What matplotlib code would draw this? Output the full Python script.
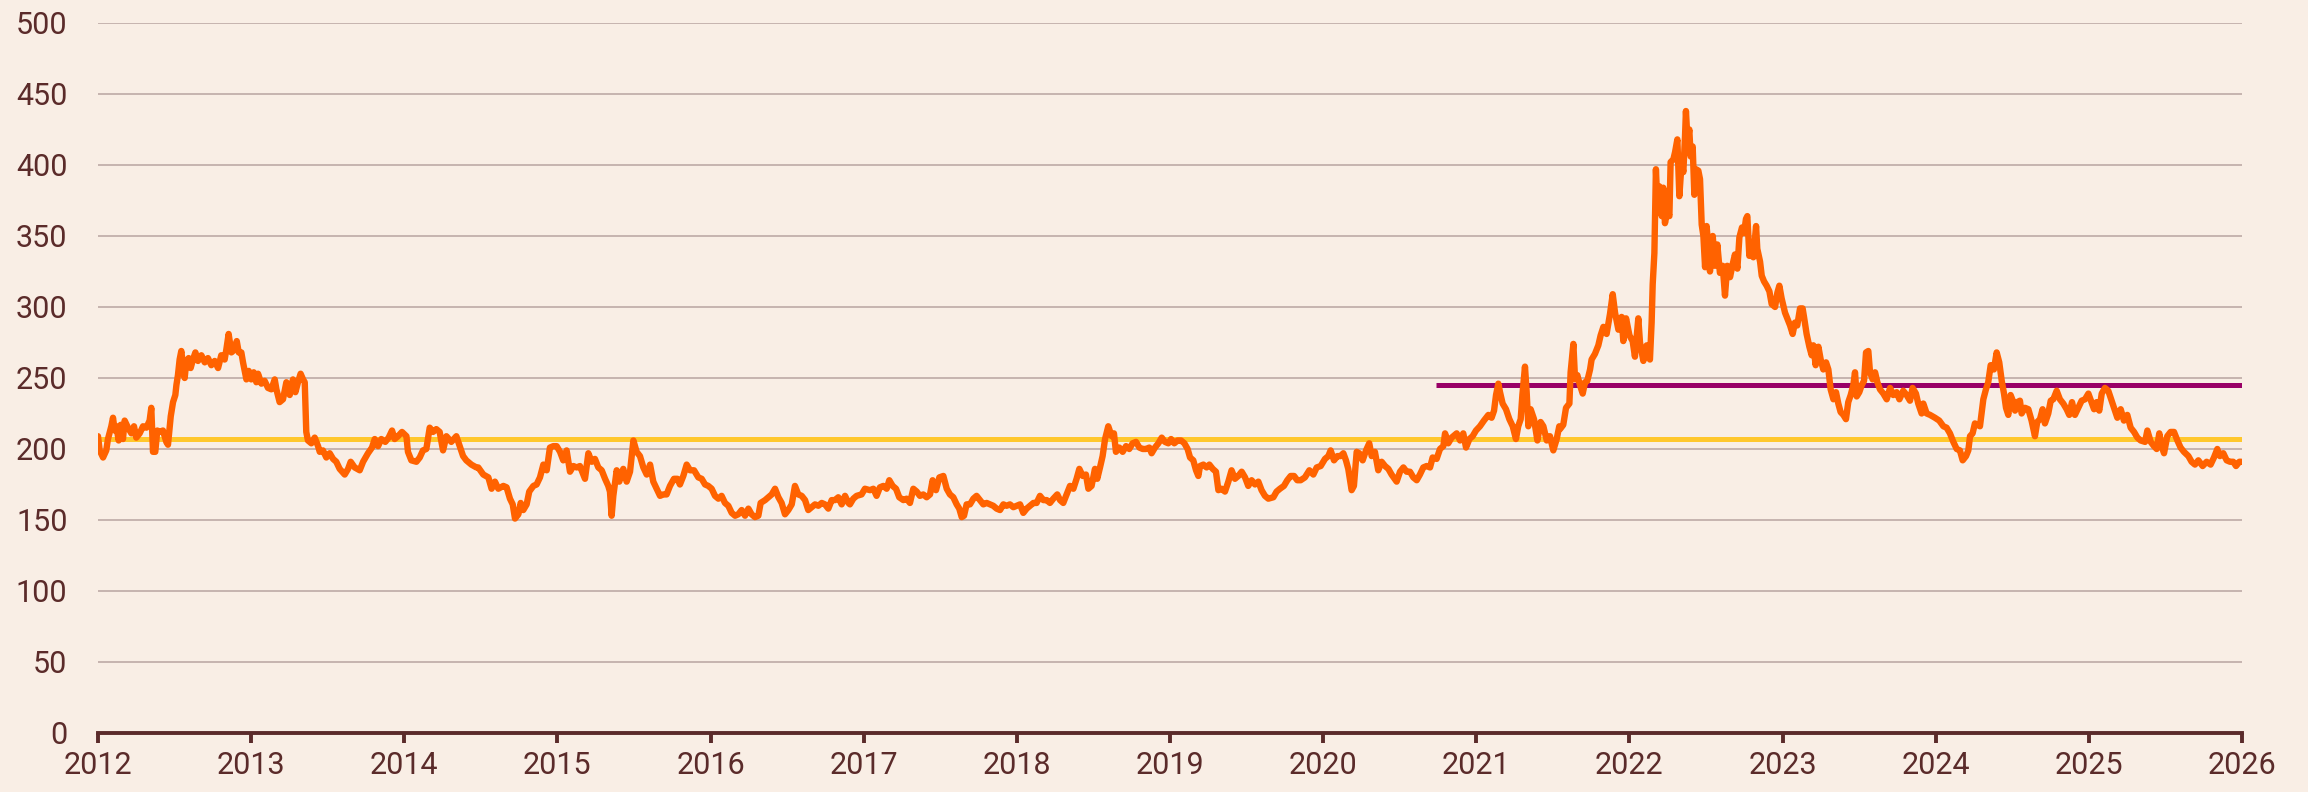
import matplotlib.pyplot as plt

# decimal years and index values
years = [
    2012.000, 2012.011, 2012.033, 2012.054, 2012.065, 2012.087, 2012.098, 2012.109, 2012.120, 2012.135,
    2012.148, 2012.163, 2012.174, 2012.196, 2012.218, 2012.235, 2012.250, 2012.272, 2012.294, 2012.316,
    2012.337, 2012.348, 2012.359, 2012.374, 2012.387, 2012.403, 2012.424, 2012.446, 2012.457, 2012.475,
    2012.490, 2012.505, 2012.512, 2012.522, 2012.533, 2012.544, 2012.555, 2012.566, 2012.577, 2012.592,
    2012.605, 2012.620, 2012.636, 2012.653, 2012.675, 2012.697, 2012.718, 2012.740, 2012.762, 2012.784,
    2012.805, 2012.827, 2012.838, 2012.853, 2012.871, 2012.892, 2012.906, 2012.919, 2012.936, 2012.947,
    2012.958, 2012.969, 2012.984, 2013.001, 2013.017, 2013.034, 2013.045, 2013.067, 2013.088, 2013.110,
    2013.132, 2013.154, 2013.165, 2013.186, 2013.208, 2013.230, 2013.252, 2013.273, 2013.289, 2013.306,
    2013.323, 2013.339, 2013.350, 2013.360, 2013.371, 2013.393, 2013.415, 2013.437, 2013.448, 2013.469,
    2013.491, 2013.513, 2013.535, 2013.556, 2013.578, 2013.611, 2013.633, 2013.650, 2013.676, 2013.709,
    2013.731, 2013.763, 2013.789, 2013.807, 2013.829, 2013.850, 2013.876, 2013.898, 2013.920, 2013.937,
    2013.959, 2013.985, 2014.014, 2014.024, 2014.046, 2014.079, 2014.101, 2014.122, 2014.144, 2014.166,
    2014.188, 2014.209, 2014.231, 2014.253, 2014.275, 2014.307, 2014.340, 2014.362, 2014.384, 2014.405,
    2014.438, 2014.471,
    2014.483, 2014.516, 2014.549, 2014.570, 2014.592, 2014.614, 2014.647, 2014.668, 2014.690, 2014.708,
    2014.723, 2014.745, 2014.760, 2014.777, 2014.799, 2014.816, 2014.843, 2014.864, 2014.886, 2014.908,
    2014.930, 2014.951, 2014.973, 2014.995, 2015.017, 2015.038, 2015.060, 2015.082, 2015.104, 2015.126,
    2015.147, 2015.180, 2015.202, 2015.224, 2015.245, 2015.267, 2015.289, 2015.311, 2015.332, 2015.343,
    2015.354, 2015.365, 2015.387, 2015.404, 2015.430, 2015.452, 2015.474, 2015.496, 2015.517, 2015.539,
    2015.561, 2015.583, 2015.605, 2015.626, 2015.648, 2015.670, 2015.692, 2015.713, 2015.735, 2015.761,
    2015.783, 2015.800, 2015.822, 2015.844, 2015.866, 2015.892, 2015.920, 2015.942, 2015.964, 2015.985,
    2016.007, 2016.029, 2016.051, 2016.072, 2016.094, 2016.116, 2016.138, 2016.160, 2016.181, 2016.203,
    2016.225, 2016.247, 2016.268, 2016.290, 2016.312, 2016.327, 2016.356, 2016.377, 2016.399, 2016.421,
    2016.443, 2016.464, 2016.486, 2016.508, 2016.530, 2016.551, 2016.573, 2016.595, 2016.617, 2016.638,
    2016.660, 2016.682, 2016.704, 2016.726, 2016.747, 2016.769, 2016.791, 2016.813, 2016.834, 2016.856,
    2016.878, 2016.900,
    2016.910, 2016.932, 2016.954, 2016.986, 2017.008, 2017.041, 2017.063, 2017.084, 2017.106, 2017.128,
    2017.150, 2017.167, 2017.189, 2017.211, 2017.232, 2017.259, 2017.280, 2017.302, 2017.324, 2017.346,
    2017.367, 2017.389, 2017.411, 2017.433, 2017.450, 2017.472, 2017.494, 2017.520, 2017.542, 2017.563,
    2017.585, 2017.607, 2017.624, 2017.640, 2017.655, 2017.672, 2017.694, 2017.716, 2017.737, 2017.759,
    2017.781, 2017.803, 2017.825, 2017.846, 2017.868, 2017.890, 2017.912, 2017.933, 2017.955, 2017.977,
    2017.999, 2018.021, 2018.042, 2018.064, 2018.086, 2018.108, 2018.129, 2018.151, 2018.173, 2018.195,
    2018.216, 2018.238, 2018.264, 2018.282, 2018.303, 2018.325, 2018.347, 2018.369, 2018.390, 2018.408,
    2018.430, 2018.451, 2018.467, 2018.488, 2018.510, 2018.525, 2018.543, 2018.560, 2018.576, 2018.597,
    2018.619, 2018.634, 2018.647, 2018.669, 2018.691, 2018.713, 2018.734, 2018.756, 2018.778, 2018.800,
    2018.822, 2018.843, 2018.865, 2018.880, 2018.902, 2018.924, 2018.946, 2018.967, 2018.989, 2019.007,
    2019.028, 2019.050, 2019.072, 2019.094, 2019.115, 2019.131, 2019.152, 2019.170, 2019.185, 2019.196,
    2019.218, 2019.239, 2019.257, 2019.279, 2019.300, 2019.316,
    2019.337, 2019.359, 2019.381, 2019.402, 2019.424, 2019.446, 2019.468, 2019.490, 2019.511, 2019.533,
    2019.555, 2019.577, 2019.598, 2019.620, 2019.642, 2019.675, 2019.696, 2019.718, 2019.744, 2019.766,
    2019.788, 2019.810, 2019.831, 2019.853, 2019.881, 2019.910, 2019.936, 2019.958, 2019.984, 2020.012,
    2020.034, 2020.049, 2020.071, 2020.093, 2020.114, 2020.132, 2020.149, 2020.164, 2020.186, 2020.201,
    2020.219, 2020.236, 2020.258, 2020.280, 2020.301, 2020.317, 2020.338, 2020.360, 2020.382, 2020.404,
    2020.426, 2020.447, 2020.480, 2020.502, 2020.524, 2020.545, 2020.567, 2020.589, 2020.611, 2020.632,
    2020.654, 2020.676, 2020.698, 2020.715, 2020.741, 2020.763, 2020.785, 2020.796, 2020.817, 2020.839,
    2020.872, 2020.894, 2020.915, 2020.933, 2020.955, 2020.976, 2020.998, 2021.024, 2021.050, 2021.079,
    2021.100, 2021.116, 2021.129, 2021.144, 2021.155, 2021.172, 2021.194, 2021.216, 2021.238, 2021.259,
    2021.274, 2021.290, 2021.301, 2021.318, 2021.329, 2021.340, 2021.355, 2021.377, 2021.399, 2021.420,
    2021.438, 2021.460, 2021.481, 2021.503, 2021.525, 2021.542,
    2021.547, 2021.568, 2021.586, 2021.608, 2021.616, 2021.634, 2021.645, 2021.660, 2021.677, 2021.695,
    2021.710, 2021.725, 2021.743, 2021.753, 2021.775, 2021.797, 2021.812, 2021.830, 2021.851, 2021.873,
    2021.891, 2021.906, 2021.928, 2021.949, 2021.960, 2021.978, 2022.000, 2022.021, 2022.036, 2022.058,
    2022.069, 2022.091, 2022.113, 2022.134, 2022.145, 2022.152, 2022.163, 2022.173, 2022.184, 2022.195,
    2022.211, 2022.221, 2022.232, 2022.248, 2022.261, 2022.269, 2022.287, 2022.298, 2022.313, 2022.326,
    2022.341, 2022.352, 2022.363, 2022.369, 2022.380, 2022.391, 2022.400, 2022.413, 2022.424, 2022.435,
    2022.450, 2022.461, 2022.472, 2022.483, 2022.494, 2022.504, 2022.515, 2022.526, 2022.544, 2022.559,
    2022.574, 2022.591, 2022.609, 2022.624, 2022.639, 2022.657, 2022.674, 2022.689, 2022.705, 2022.718,
    2022.735, 2022.748, 2022.761, 2022.770, 2022.783, 2022.794, 2022.809, 2022.827, 2022.835, 2022.853,
    2022.864, 2022.879, 2022.896, 2022.914, 2022.929, 2022.951, 2022.966, 2022.979, 2022.994, 2023.016,
    2023.031, 2023.049, 2023.066, 2023.081, 2023.096, 2023.114, 2023.131, 2023.140, 2023.157, 2023.175,
    2023.190, 2023.201, 2023.216, 2023.234, 2023.249, 2023.266, 2023.284, 2023.299, 2023.314, 2023.332,
    2023.349, 2023.364, 2023.379, 2023.397, 2023.414, 2023.429, 2023.445, 2023.462, 2023.473, 2023.484,
    2023.501, 2023.517, 2023.532, 2023.545, 2023.560, 2023.571, 2023.588, 2023.604, 2023.619, 2023.636,
    2023.658, 2023.680, 2023.702, 2023.723, 2023.745, 2023.763,
    2023.788, 2023.810, 2023.832, 2023.849, 2023.871, 2023.886, 2023.908, 2023.919, 2023.941, 2023.963,
    2023.995, 2024.023, 2024.050, 2024.071, 2024.093, 2024.115, 2024.137, 2024.158, 2024.176, 2024.198,
    2024.213, 2024.224, 2024.241, 2024.256, 2024.289, 2024.311, 2024.328, 2024.343, 2024.359, 2024.380,
    2024.398, 2024.415, 2024.431, 2024.446, 2024.459, 2024.474, 2024.489, 2024.507, 2024.518, 2024.533,
    2024.550, 2024.561, 2024.583, 2024.605, 2024.626, 2024.648, 2024.663, 2024.681, 2024.698, 2024.713,
    2024.735, 2024.751, 2024.768, 2024.790, 2024.811, 2024.833, 2024.855, 2024.872, 2024.890, 2024.909,
    2024.931, 2024.953, 2024.975, 2024.997, 2025.014, 2025.034, 2025.051, 2025.068, 2025.084, 2025.105,
    2025.127, 2025.149, 2025.171, 2025.186, 2025.208, 2025.229, 2025.251, 2025.273, 2025.295, 2025.317,
    2025.338, 2025.367, 2025.382, 2025.404, 2025.425, 2025.443, 2025.460, 2025.475, 2025.491, 2025.512,
    2025.534, 2025.556, 2025.578, 2025.599, 2025.621, 2025.650, 2025.671, 2025.693, 2025.715, 2025.743,
    2025.769, 2025.795, 2025.817, 2025.839, 2025.856, 2025.878, 2025.900, 2025.922, 2025.943, 2025.961,
    2025.983, 2025.995,
]

values = [
    209, 199, 194, 199, 207, 216, 222, 213, 216, 206,
    217, 207, 220, 215, 211, 216, 208, 211, 216, 215,
    220, 229, 198, 198, 213, 212, 213, 205, 203, 223,
    233, 238, 245, 252, 263, 269, 259, 250, 262, 264,
    257, 263, 268, 262, 266, 261, 264, 259, 262, 257,
    266, 263, 270, 281, 268, 270, 276, 268, 268, 261,
    255, 249, 255, 249, 254, 247, 253, 246, 248, 243,
    242, 249, 242, 233, 235, 247, 238, 249, 240, 247,
    253, 249, 247, 212, 206, 204, 208, 202, 198, 199,
    194, 197, 193, 191, 186, 182, 186, 191, 187, 185,
    191, 197, 201, 207, 202, 207, 205, 208, 213, 207,
    209, 212, 209, 198, 192, 191, 194, 199, 200, 215,
    212, 214, 212, 199, 209, 205, 209, 202, 195, 192,
    189, 187,
    187, 182, 180, 172, 177, 172, 174, 173, 165, 161,
    151, 154, 162, 157, 161, 170, 174, 175, 180, 189,
    185, 201, 202, 202, 198, 192, 199, 184, 188, 187,
    188, 179, 197, 191, 193, 187, 185, 179, 174, 170,
    153, 167, 185, 177, 186, 177, 184, 206, 198, 195,
    187, 182, 189, 177, 172, 167, 168, 168, 174, 179,
    179, 175, 181, 189, 185, 185, 180, 179, 175, 174,
    172, 167, 165, 167, 162, 160, 155, 153, 154, 157,
    153, 158, 154, 152, 153, 162, 164, 166, 168, 172,
    166, 162, 154, 157, 161, 174, 168, 167, 164, 157,
    159, 161, 160, 162, 161, 158, 164, 164, 166, 161,
    167, 162,
    161, 165, 167, 168, 172, 171, 172, 167, 173, 174,
    172, 178, 174, 172, 166, 164, 165, 162, 172, 170,
    167, 168, 166, 168, 178, 171, 180, 181, 172, 168,
    166, 161, 158, 152, 153, 161, 161, 165, 167, 164,
    161, 162, 161, 160, 158, 157, 161, 160, 161, 159,
    160, 161, 155, 158, 160, 162, 162, 167, 164, 164,
    162, 165, 168, 164, 162, 168, 174, 172, 179, 186,
    181, 182, 172, 174, 186, 179, 187, 195, 207, 216,
    209, 211, 198, 201, 198, 202, 200, 204, 205, 201,
    200, 200, 201, 197, 201, 204, 208, 205, 204, 207,
    204, 206, 206, 204, 200, 194, 192, 185, 181, 188,
    189, 187, 189, 186, 184, 171,
    172, 170, 177, 185, 179, 181, 184, 180, 174, 178,
    175, 177, 171, 167, 165, 166, 170, 172, 174, 178,
    181, 181, 178, 178, 180, 185, 182, 187, 188, 193,
    195, 199, 192, 195, 195, 197, 192, 186, 171, 174,
    198, 197, 192, 199, 204, 195, 198, 185, 191, 188,
    186, 182, 177, 184, 187, 184, 184, 180, 178, 182,
    187, 188, 187, 194, 193, 200, 202, 211, 204, 208,
    211, 206, 211, 201, 207, 209, 213, 216, 220, 224,
    222, 227, 238, 246, 240, 232, 228, 221, 216, 207,
    216, 221, 238, 258, 240, 216, 228, 221, 206, 219,
    216, 206, 209, 199, 207, 216,
    214, 217, 229, 232, 254, 274, 249, 252, 245, 239,
    247, 248, 256, 263, 267, 273, 280, 286, 281, 295,
    309, 296, 284, 293, 276, 292, 280, 276, 265, 292,
    275, 262, 273, 263, 289, 316, 338, 397, 369, 385,
    364, 384, 359, 368, 364, 402, 404, 409, 418, 378,
    402, 395, 420, 438, 416, 425, 406, 413, 379, 397,
    396, 390, 358, 350, 328, 357, 343, 325, 350, 329,
    344, 324, 329, 308, 329, 321, 330, 337, 327, 349,
    356, 352, 362, 364, 336, 344, 335, 357, 341, 332,
    322, 318, 315, 311, 302, 300, 310, 315, 306, 296,
    292, 287, 281, 289, 287, 299, 299, 293, 281, 272,
    266, 273, 259, 272, 263, 256, 261, 256, 242, 235,
    240, 232, 226, 224, 221, 233, 238, 245, 254, 237,
    240, 245, 248, 268, 269, 254, 249, 254, 247, 242,
    239, 235, 243, 238, 240, 235,
    241, 238, 234, 243, 239, 232, 225, 232, 225, 224,
    222, 220, 216, 215, 211, 205, 200, 199, 192, 195,
    199, 209, 211, 218, 216, 235, 242, 247, 259, 256,
    268, 261, 248, 239, 229, 224, 238, 233, 227, 233,
    234, 225, 229, 228, 220, 209, 219, 221, 228, 218,
    225, 234, 235, 241, 235, 232, 228, 224, 233, 224,
    229, 234, 235, 239, 234, 228, 233, 227, 239, 243,
    241, 234, 227, 222, 228, 220, 224, 215, 212, 208,
    206, 205, 213, 205, 202, 200, 211, 202, 197, 209,
    212, 212, 206, 201, 198, 195, 191, 189, 192, 188,
    191, 189, 194, 200, 195, 197, 192, 191, 191, 188,
    191, 191,
]

long_avg = 207          # yellow line, whole period
recent_avg = 245        # purple line, from late 2020
recent_start = 2020.74

year_ticks = list(range(2012, 2027))
y_ticks = list(range(0, 501, 50))

bg = '#F9EEE5'
text_col = '#5B2B2A'

plt.rcParams['font.family'] = ['Roboto', 'DejaVu Sans']

fig = plt.figure(figsize=(23.08, 7.92), dpi=100, facecolor=bg)
ax = fig.add_axes([0.04246, 0.0745, 0.92894, 0.8965])
ax.set_facecolor(bg)

for yt in y_ticks[1:]:
    ax.axhline(yt, color='#B9A4A0', linewidth=1.1, zorder=1)

ax.plot([2012, 2026], [long_avg, long_avg], color='#FFC72C', linewidth=3.6, zorder=2,
        solid_capstyle='butt')
ax.plot([recent_start, 2026], [recent_avg, recent_avg], color='#990066', linewidth=3.6,
        zorder=2, solid_capstyle='butt')
ax.plot(years, values, color='#FF6200', linewidth=4.6, zorder=3,
        solid_joinstyle='round', solid_capstyle='round')

ax.set_xlim(2012, 2026)
ax.set_ylim(0, 500)
ax.set_xticks(year_ticks)
ax.set_xticklabels([str(y) for y in year_ticks])
ax.set_yticks(y_ticks)
ax.set_yticklabels([str(v) for v in y_ticks])

for s in ['top', 'right', 'left']:
    ax.spines[s].set_visible(False)
ax.spines['bottom'].set_color(text_col)
ax.spines['bottom'].set_linewidth(2.8)
ax.spines['bottom'].set_zorder(4)

ax.tick_params(axis='x', direction='out', length=7, width=2.8, color=text_col,
               labelsize=22, labelcolor=text_col, pad=6)
ax.tick_params(axis='y', length=0, labelsize=22, labelcolor=text_col, pad=22)

fig.savefig('out.png', dpi=100, facecolor=bg)
